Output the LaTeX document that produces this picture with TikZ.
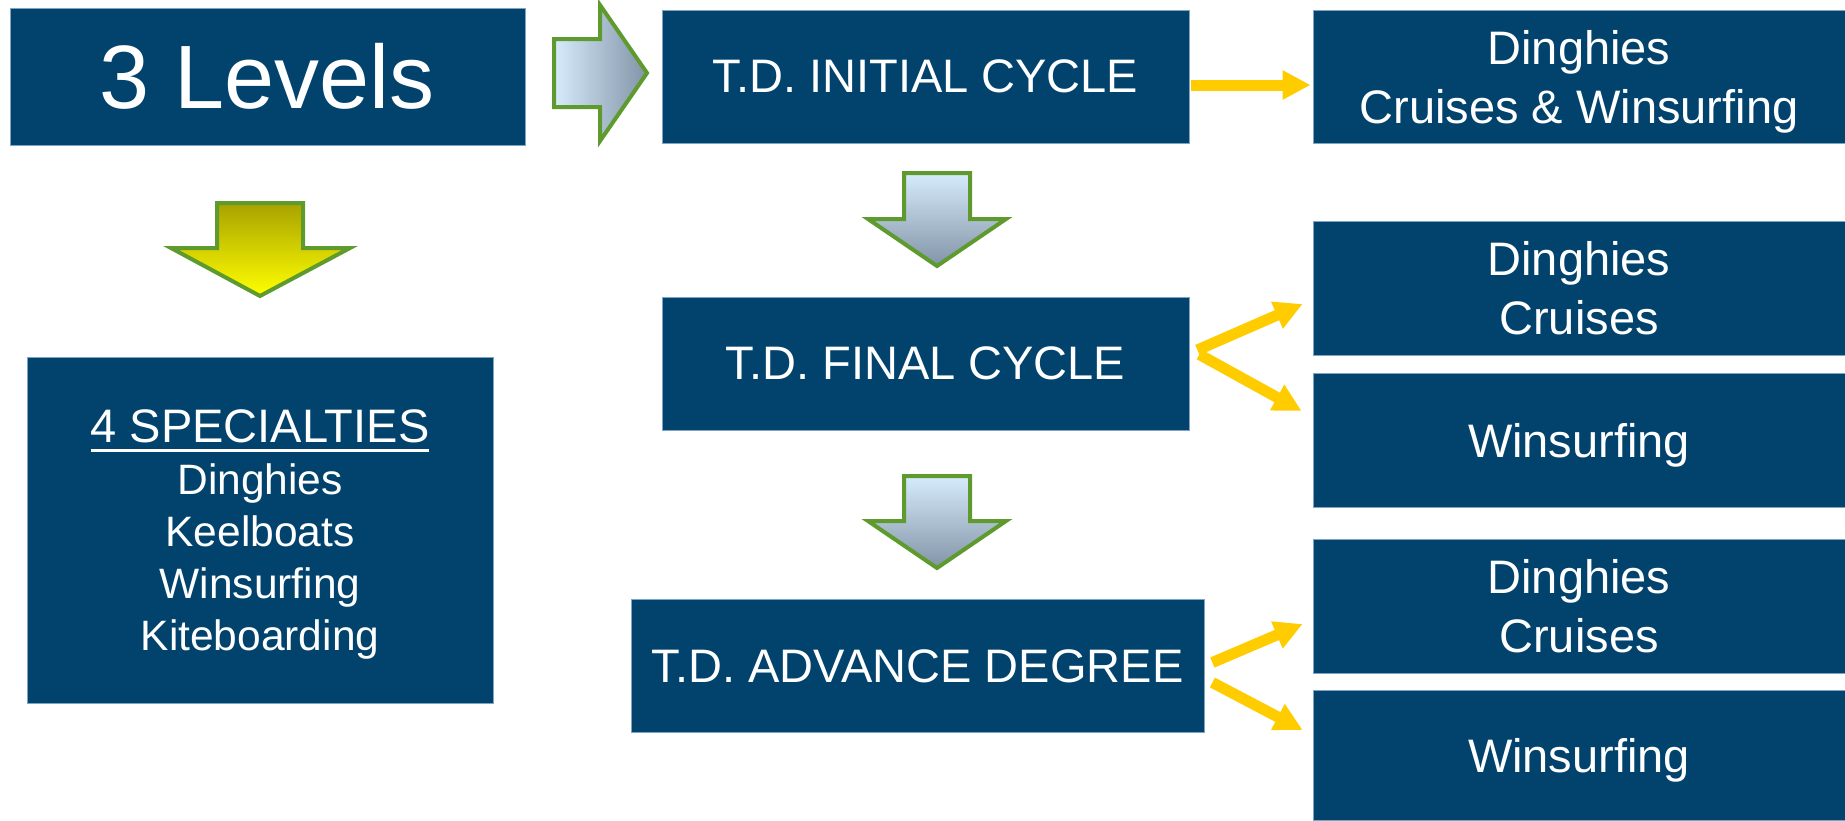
\documentclass[tikz,border=0pt]{standalone}
\usepackage{fontspec}
\setmainfont{Liberation Sans}
\usetikzlibrary{arrows.meta,calc}
\definecolor{boxblue}{HTML}{02436E}
\definecolor{boxedge}{HTML}{7FA3C3}
\definecolor{arrowgreen}{HTML}{5E9A2E}
\definecolor{connyellow}{HTML}{FFCC00}
\definecolor{lightblue}{HTML}{D6EBFC}
\definecolor{greyblue}{HTML}{8294A7}
\definecolor{olive}{HTML}{A8A200}
\definecolor{brightyellow}{HTML}{FFFF00}
\newcommand\ulx[1]{\setbox0\hbox{#1}\rlap{\raisebox{-4pt}{\rule{\wd0}{1.2pt}}}\box0}
\begin{document}
\begin{tikzpicture}[x=0.4pt,y=-0.4pt,
  bx/.style={fill=boxblue,draw=boxedge,line width=0.3pt,text=white,inner sep=0pt,align=center,
             font=\fontsize{18.8}{23.6}\selectfont},
  conn/.style={draw=connyellow,line width=4.4pt,-{Triangle[length=11.2pt,width=11pt]}},
  blk/.style={draw=arrowgreen,line width=1.6pt,line join=miter}]
\useasboundingbox (0,0) rectangle (1845,820);
% boxes
\node[bx,minimum width=206pt,minimum height=54.8pt,font=\fontsize{36}{40}\selectfont] (lev) at (267.5,76.5) {3 Levels};
\node[bx,minimum width=210.8pt,minimum height=53.2pt] (init) at (925.5,76.5) {T.D. INITIAL CYCLE};
\node[bx,minimum width=212.8pt,minimum height=53.2pt,text depth=0pt] (r1) at (1579,76.5) {Dinghies\\Cruises \& Winsurfing};
\node[bx,minimum width=210.8pt,minimum height=53.2pt] (final) at (925.5,363.5) {T.D. FINAL CYCLE};
\node[bx,minimum width=212.8pt,minimum height=53.6pt,text depth=0pt] (r2) at (1579,288) {Dinghies\\Cruises};
\node[bx,minimum width=212.8pt,minimum height=53.6pt,text depth=0pt] (r3) at (1579,440) {Winsurfing};
\node[bx,minimum width=186.4pt,minimum height=138.4pt,text depth=0pt,font=\fontsize{17}{20.8}\selectfont] (spec) at (260,530)
  {{\fontsize{18.8}{20.8}\selectfont\ulx{4 SPECIALTIES}}\\Dinghies\\Keelboats\\Winsurfing\\Kiteboarding};
\node[bx,minimum width=229.2pt,minimum height=53.2pt] (adv) at (917.5,666) {T.D. ADVANCE DEGREE};
\node[bx,minimum width=212.8pt,minimum height=53.6pt,text depth=0pt] (r4) at (1579,606) {Dinghies\\Cruises};
\node[bx,minimum width=212.8pt,minimum height=52pt,text depth=0pt] (r5) at (1579,755) {Winsurfing};
% block arrows
\shade[blk,left color=lightblue,right color=greyblue]
  (554,39) -- (600,39) -- (600,5) -- (647,73) -- (600,141) -- (600,107) -- (554,107) -- cycle;
\shade[blk,top color=olive,bottom color=brightyellow]
  (217,203) -- (303,203) -- (303,248) -- (350,248) -- (260,296) -- (171,248) -- (217,248) -- cycle;
\shade[blk,top color=lightblue,bottom color=greyblue]
  (904,173) -- (970,173) -- (970,219) -- (1006,219) -- (937,266) -- (868,219) -- (904,219) -- cycle;
\shade[blk,top color=lightblue,bottom color=greyblue]
  (904,476) -- (970,476) -- (970,521) -- (1006,521) -- (937,568) -- (868,521) -- (904,521) -- cycle;
% connectors
\draw[conn] ([shift={(2,8.5)}]init.east) -- ([shift={(-2,8.5)}]r1.west);
\draw[conn] ([shift={(8,-13.5)}]final.east) -- ([shift={(-10,16)}]r2.west);
\draw[conn] ([shift={(10,-9)}]final.east) -- ([shift={(-11,-29)}]r3.west);
\draw[conn] ([shift={(8,-3.5)}]adv.east) -- ([shift={(-10,18)}]r4.west);
\draw[conn] ([shift={(8,16.5)}]adv.east) -- ([shift={(-10,-25)}]r5.west);
\end{tikzpicture}
\end{document}
